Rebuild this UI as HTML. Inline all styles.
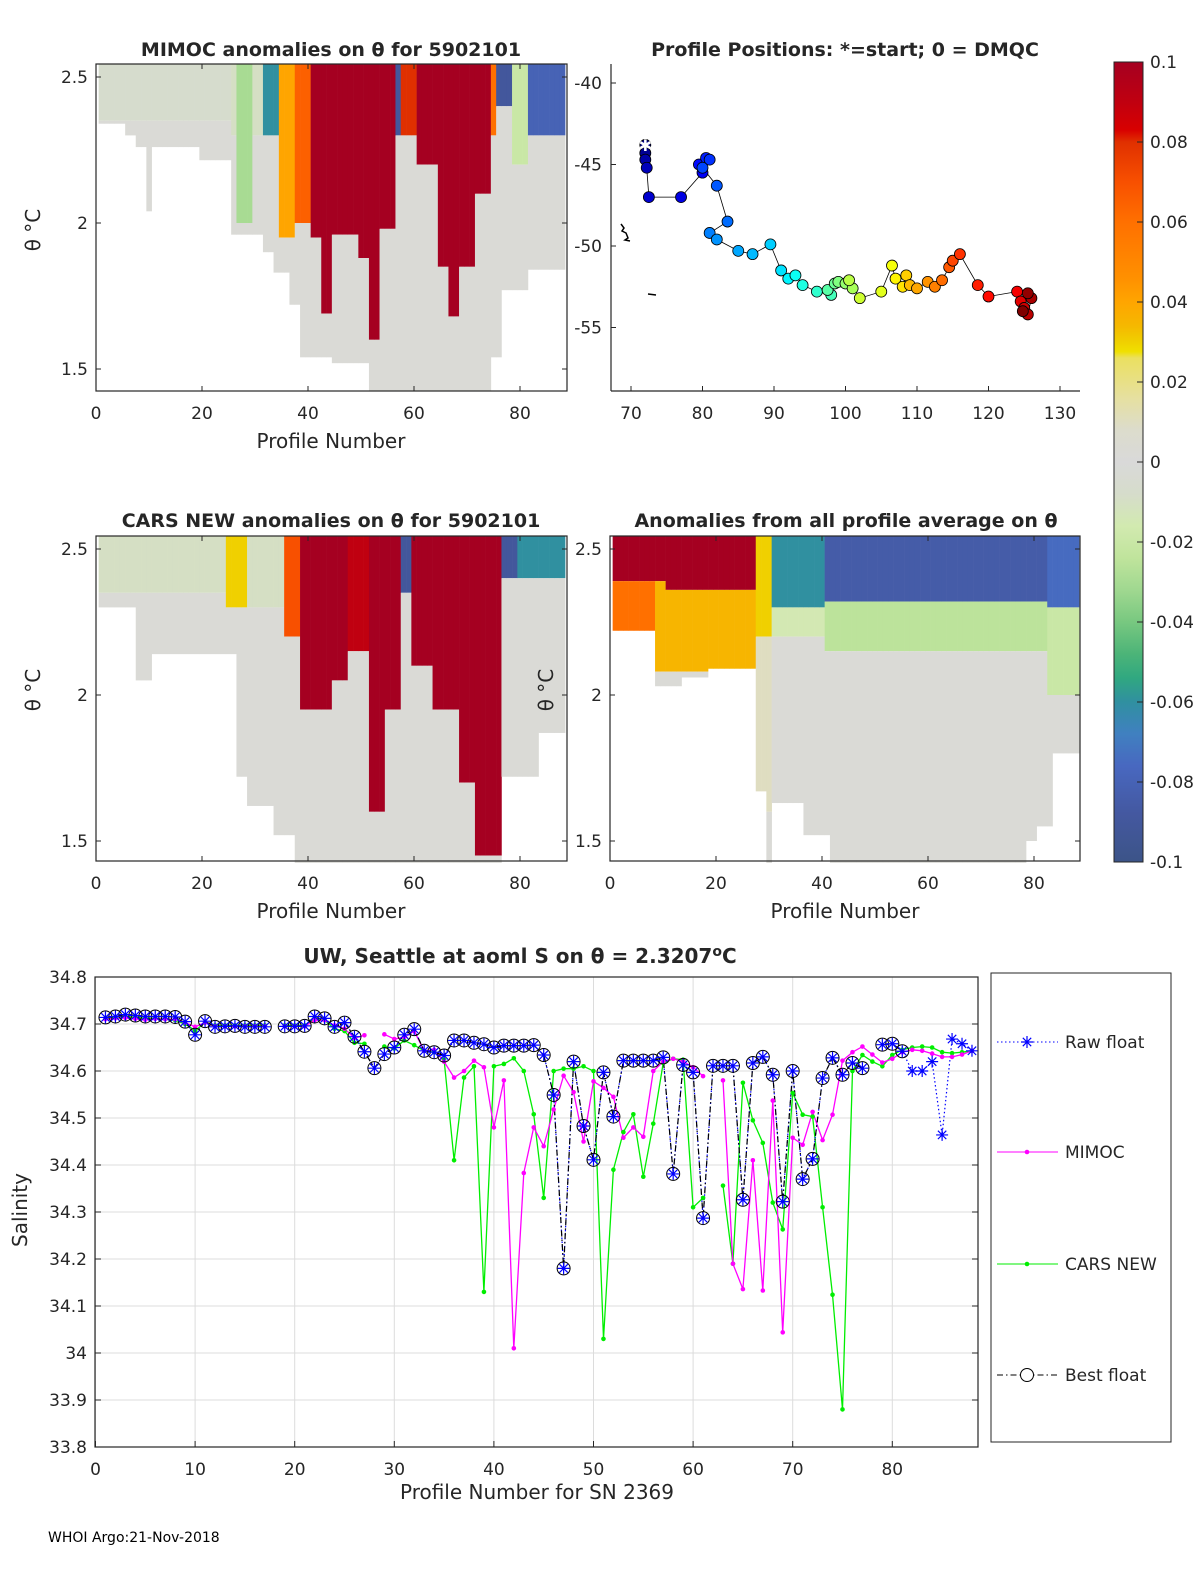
<!DOCTYPE html>
<html><head><meta charset="utf-8"><style>
html,body{margin:0;padding:0;background:#fff;}
svg{display:block;font-family:"DejaVu Sans","Liberation Sans",sans-serif;}
</style></head><body>
<svg id="fig" width="1200" height="1575" viewBox="0 0 1200 1575" xmlns="http://www.w3.org/2000/svg">
<defs>
<linearGradient id="cbgrad" x1="0" y1="0" x2="0" y2="1">
<stop offset="0" stop-color="#a50021"/><stop offset="0.05" stop-color="#c00010"/><stop offset="0.085" stop-color="#d80000"/>
<stop offset="0.1" stop-color="#e03000"/><stop offset="0.15" stop-color="#f85000"/><stop offset="0.2" stop-color="#ff7000"/>
<stop offset="0.27" stop-color="#ff9000"/><stop offset="0.3" stop-color="#ffa500"/><stop offset="0.33" stop-color="#f5b800"/>
<stop offset="0.35" stop-color="#f0d000"/><stop offset="0.362" stop-color="#f0e000"/><stop offset="0.37" stop-color="#ebe060"/>
<stop offset="0.42" stop-color="#e6e0a0"/><stop offset="0.46" stop-color="#dcdccc"/><stop offset="0.5" stop-color="#d9d9d9"/>
<stop offset="0.54" stop-color="#d6dccb"/><stop offset="0.58" stop-color="#d2eab0"/><stop offset="0.62" stop-color="#c0e49c"/>
<stop offset="0.66" stop-color="#a0d890"/><stop offset="0.7" stop-color="#78c880"/><stop offset="0.74" stop-color="#4cb478"/>
<stop offset="0.77" stop-color="#30a880"/><stop offset="0.8" stop-color="#3090a0"/><stop offset="0.84" stop-color="#4080c0"/>
<stop offset="0.88" stop-color="#4868c0"/><stop offset="0.94" stop-color="#4458a0"/><stop offset="1" stop-color="#3c5488"/>
</linearGradient>
</defs>
<g id="layer"></g>
</svg>
<script>
// ---------- bottom chart data (profile 1..88) ----------
const profiles = Array.from({length:88},(_,i)=>i+1);
const bestFloat = [34.714,34.716,34.72,34.718,34.716,34.716,34.716,34.715,34.705,34.677,34.706,34.694,34.695,34.696,34.694,34.694,34.694,null,34.695,34.695,34.696,34.716,34.712,34.694,34.703,34.673,34.641,34.606,34.636,34.65,34.677,34.689,34.643,34.64,34.633,34.665,34.665,34.66,34.657,34.65,34.654,34.654,34.654,34.655,34.634,34.549,34.18,34.62,34.483,34.411,34.597,34.503,34.622,34.622,34.622,34.622,34.629,34.381,34.613,34.597,34.287,34.611,34.611,34.611,34.326,34.617,34.63,34.592,34.322,34.6,34.37,34.413,34.585,34.628,34.592,34.617,34.606,null,34.656,34.658,34.642,null,null,null,null,null,null,null];
const rawFloat = [34.714,34.716,34.72,34.718,34.716,34.716,34.716,34.715,34.705,34.677,34.706,34.694,34.695,34.696,34.694,34.694,34.694,null,34.695,34.695,34.696,34.716,34.712,34.694,34.703,34.673,34.641,34.606,34.636,34.65,34.677,34.689,34.643,34.64,34.633,34.665,34.665,34.66,34.657,34.65,34.654,34.654,34.654,34.655,34.634,34.549,34.18,34.62,34.483,34.411,34.597,34.503,34.622,34.622,34.622,34.622,34.629,34.381,34.613,34.597,34.287,34.611,34.611,34.611,34.326,34.617,34.63,34.592,34.322,34.6,34.37,34.413,34.585,34.628,34.592,34.617,34.606,null,34.656,34.658,34.642,34.6,34.6,34.62,34.464,34.668,34.658,34.643];
const mimocS = [34.71,34.712,34.713,34.711,34.709,34.711,34.71,34.71,34.703,34.694,34.703,34.695,34.695,34.695,34.695,34.695,34.695,null,34.695,34.695,34.695,34.708,34.708,34.697,34.69,34.67,34.676,null,34.678,34.668,34.672,34.685,34.643,34.645,34.62,34.586,34.6,34.622,34.608,34.48,34.58,34.01,34.383,34.48,34.44,34.518,34.59,34.555,34.45,34.578,34.564,34.545,34.458,34.48,34.46,34.6,34.62,34.626,34.62,34.608,34.589,null,34.58,34.19,34.136,34.41,34.133,34.537,34.044,34.458,34.443,34.513,34.453,34.507,34.622,34.64,34.652,34.635,34.618,34.626,34.64,34.645,34.643,34.637,34.63,34.63,34.635,34.643];
const carsS = [34.712,34.714,34.716,34.714,34.712,34.712,34.71,34.708,34.7,34.686,34.703,34.697,34.697,34.697,34.697,34.697,34.697,null,34.697,34.697,34.697,34.712,34.708,34.69,34.685,34.66,34.658,null,34.652,34.648,34.665,34.655,34.643,34.64,34.624,34.41,34.586,34.61,34.13,34.61,34.615,34.627,34.6,34.508,34.33,34.6,34.605,34.605,34.61,34.6,34.03,34.39,34.47,34.508,34.375,34.488,34.617,34.626,34.624,34.31,34.33,null,34.356,34.19,34.575,34.495,34.447,34.32,34.263,34.553,34.507,34.503,34.31,34.124,33.88,34.6,34.634,34.62,34.61,34.634,34.645,34.65,34.652,34.65,34.64,34.638,34.64,34.643];
const salTicks = [34.8,34.7,34.6,34.5,34.4,34.3,34.2,34.1,34,33.9,33.8];
const salTickLabels = ["34.8","34.7","34.6","34.5","34.4","34.3","34.2","34.1","34","33.9","33.8"];
const profTicks = [0,10,20,30,40,50,60,70,80];

// ---------- heatmap data (per profile column 1..88) ----------
const mimocBottom = [2.34,2.34,2.34,2.34,2.34,2.3,2.3,2.26,2.26,2.04,2.26,2.26,2.26,2.26,2.26,2.26,2.26,2.26,2.26,2.215,2.215,2.215,2.215,2.215,2.215,1.96,1.96,1.96,1.96,1.96,1.96,1.9,1.9,1.83,1.83,1.83,1.72,1.72,1.54,1.54,1.54,1.54,1.54,1.54,1.52,1.52,1.52,1.52,1.52,1.52,1.52,1.425,1.425,1.425,1.425,1.425,1.425,1.425,1.425,1.425,1.425,1.425,1.425,1.425,1.425,1.425,1.425,1.425,1.425,1.425,1.425,1.425,1.425,1.425,1.54,1.54,1.77,1.77,1.77,1.77,1.77,1.84,1.84,1.84,1.84,1.84,1.84,1.84];
const mimocTopVal = [-0.007,-0.007,-0.007,-0.007,-0.007,-0.007,-0.007,-0.007,-0.007,-0.007,-0.007,-0.007,-0.007,-0.007,-0.007,-0.007,-0.007,-0.007,-0.007,-0.007,-0.007,-0.007,-0.007,-0.007,-0.007,-0.01,-0.03,-0.03,-0.03,-0.01,-0.01,-0.06,-0.06,-0.06,0.04,0.04,0.04,0.065,0.065,0.065,0.1,0.1,0.1,0.1,0.1,0.1,0.1,0.1,0.1,0.1,0.1,0.1,0.1,0.1,0.1,0.1,-0.09,0.08,0.08,0.08,0.1,0.1,0.1,0.1,0.1,0.1,0.1,0.1,0.1,0.1,0.1,0.1,0.1,0.1,0.06,-0.09,-0.09,-0.09,-0.02,-0.02,-0.02,-0.08,-0.08,-0.08,-0.08,-0.08,-0.08,-0.08];
const mimocTopEnd = [2.35,2.35,2.35,2.35,2.35,2.35,2.35,2.35,2.35,2.35,2.35,2.35,2.35,2.35,2.35,2.35,2.35,2.35,2.35,2.35,2.35,2.35,2.35,2.35,2.35,2.3,2.0,2.0,2.0,2.3,2.3,2.3,2.3,2.3,1.95,1.95,1.95,2.0,2.0,2.0,1.95,1.95,1.69,1.69,1.96,1.96,1.96,1.96,1.96,1.88,1.88,1.6,1.6,1.98,1.98,1.98,2.3,2.3,2.3,2.3,2.2,2.2,2.2,2.2,1.85,1.85,1.68,1.68,1.85,1.85,1.85,2.1,2.1,2.1,2.3,2.4,2.4,2.4,2.2,2.2,2.2,2.3,2.3,2.3,2.3,2.3,2.3,2.3];
const carsBottom = [2.3,2.3,2.3,2.3,2.3,2.3,2.3,2.05,2.05,2.05,2.14,2.14,2.14,2.14,2.14,2.14,2.14,2.14,2.14,2.14,2.14,2.14,2.14,2.14,2.14,2.14,1.72,1.72,1.62,1.62,1.62,1.62,1.62,1.52,1.52,1.52,1.52,1.425,1.425,1.425,1.425,1.425,1.425,1.425,1.425,1.425,1.425,1.425,1.425,1.425,1.425,1.425,1.425,1.425,1.425,1.425,1.425,1.425,1.425,1.425,1.425,1.425,1.425,1.425,1.425,1.425,1.425,1.425,1.425,1.425,1.425,1.425,1.425,1.425,1.425,1.425,1.72,1.72,1.72,1.72,1.72,1.72,1.72,1.87,1.87,1.87,1.87,1.87];
const carsTopVal = [-0.01,-0.01,-0.01,-0.01,-0.01,-0.01,-0.01,-0.01,-0.01,-0.01,-0.01,-0.01,-0.01,-0.01,-0.01,-0.01,-0.01,-0.01,-0.01,-0.01,-0.01,-0.01,-0.01,-0.01,0.03,0.03,0.03,0.03,-0.01,-0.01,-0.01,-0.01,-0.01,-0.01,-0.01,0.07,0.07,0.07,0.1,0.1,0.1,0.1,0.1,0.1,0.1,0.1,0.1,0.09,0.09,0.09,0.09,0.1,0.1,0.1,0.1,0.1,0.1,-0.09,-0.09,0.1,0.1,0.1,0.1,0.1,0.1,0.1,0.1,0.1,0.1,0.1,0.1,0.1,0.1,0.1,0.1,0.1,-0.09,-0.09,-0.09,-0.06,-0.06,-0.06,-0.06,-0.06,-0.06,-0.06,-0.06,-0.06];
const carsTopEnd = [2.35,2.35,2.35,2.35,2.35,2.35,2.35,2.35,2.35,2.35,2.35,2.35,2.35,2.35,2.35,2.35,2.35,2.35,2.35,2.35,2.35,2.35,2.35,2.35,2.3,2.3,2.3,2.3,2.3,2.3,2.3,2.3,2.3,2.3,2.3,2.2,2.2,2.2,1.95,1.95,1.95,1.95,1.95,1.95,2.05,2.05,2.05,2.15,2.15,2.15,2.15,1.6,1.6,1.6,1.95,1.95,1.95,2.35,2.35,2.1,2.1,2.1,2.1,1.95,1.95,1.95,1.95,1.95,1.7,1.7,1.7,1.45,1.45,1.45,1.45,1.45,2.4,2.4,2.4,2.4,2.4,2.4,2.4,2.4,2.4,2.4,2.4,2.4];
const avgBottom = [2.22,2.22,2.22,2.22,2.22,2.22,2.22,2.22,2.03,2.03,2.03,2.03,2.03,2.06,2.06,2.06,2.06,2.06,2.09,2.09,2.09,2.09,2.09,2.09,2.09,2.09,2.09,1.67,1.67,1.425,1.63,1.63,1.63,1.63,1.63,1.63,1.52,1.52,1.52,1.52,1.52,1.425,1.425,1.425,1.425,1.425,1.425,1.425,1.425,1.425,1.425,1.425,1.425,1.425,1.425,1.425,1.425,1.425,1.425,1.425,1.425,1.425,1.425,1.425,1.425,1.425,1.425,1.425,1.425,1.425,1.425,1.425,1.425,1.425,1.425,1.425,1.425,1.425,1.5,1.5,1.55,1.55,1.55,1.8,1.8,1.8,1.8,1.8];
const avgTopVal = [0.1,0.1,0.1,0.1,0.1,0.1,0.1,0.1,0.1,0.1,0.1,0.1,0.1,0.1,0.1,0.1,0.1,0.1,0.1,0.1,0.1,0.1,0.1,0.1,0.1,0.1,0.1,0.03,0.03,0.03,-0.06,-0.06,-0.06,-0.06,-0.06,-0.06,-0.06,-0.06,-0.06,-0.06,-0.085,-0.085,-0.085,-0.085,-0.085,-0.085,-0.085,-0.085,-0.085,-0.085,-0.085,-0.085,-0.085,-0.085,-0.085,-0.085,-0.085,-0.085,-0.085,-0.085,-0.085,-0.085,-0.085,-0.085,-0.085,-0.085,-0.085,-0.085,-0.085,-0.085,-0.085,-0.085,-0.085,-0.085,-0.085,-0.085,-0.085,-0.085,-0.085,-0.085,-0.085,-0.085,-0.075,-0.075,-0.075,-0.075,-0.075,-0.075];
const avgTopEnd = [2.39,2.39,2.39,2.39,2.39,2.39,2.39,2.39,2.39,2.39,2.36,2.36,2.36,2.36,2.36,2.36,2.36,2.36,2.36,2.36,2.36,2.36,2.36,2.36,2.36,2.36,2.36,2.2,2.2,2.2,2.3,2.3,2.3,2.3,2.3,2.3,2.3,2.3,2.3,2.3,2.32,2.32,2.32,2.32,2.32,2.32,2.32,2.32,2.32,2.32,2.32,2.32,2.32,2.32,2.32,2.32,2.32,2.32,2.32,2.32,2.32,2.32,2.32,2.32,2.32,2.32,2.32,2.32,2.32,2.32,2.32,2.32,2.32,2.32,2.32,2.32,2.32,2.32,2.32,2.32,2.32,2.32,2.3,2.3,2.3,2.3,2.3,2.3];
const avgMidVal = [0.06,0.06,0.06,0.06,0.06,0.06,0.06,0.06,0.035,0.035,0.035,0.035,0.035,0.035,0.035,0.035,0.035,0.035,0.035,0.035,0.035,0.035,0.035,0.035,0.035,0.035,0.035,0.01,0.01,0.01,-0.015,-0.015,-0.015,-0.015,-0.015,-0.015,-0.015,-0.015,-0.015,-0.015,-0.025,-0.025,-0.025,-0.025,-0.025,-0.025,-0.025,-0.025,-0.025,-0.025,-0.025,-0.025,-0.025,-0.025,-0.025,-0.025,-0.025,-0.025,-0.025,-0.025,-0.025,-0.025,-0.025,-0.025,-0.025,-0.025,-0.025,-0.025,-0.025,-0.025,-0.025,-0.025,-0.025,-0.025,-0.025,-0.025,-0.025,-0.025,-0.025,-0.025,-0.025,-0.025,-0.02,-0.02,-0.02,-0.02,-0.02,-0.02];
const avgMidEnd = [2.22,2.22,2.22,2.22,2.22,2.22,2.22,2.22,2.08,2.08,2.08,2.08,2.08,2.08,2.08,2.08,2.08,2.08,2.08,2.08,2.08,2.08,2.08,2.08,2.08,2.08,2.08,1.6,1.6,1.6,2.2,2.2,2.2,2.2,2.2,2.2,2.2,2.2,2.2,2.2,2.15,2.15,2.15,2.15,2.15,2.15,2.15,2.15,2.15,2.15,2.15,2.15,2.15,2.15,2.15,2.15,2.15,2.15,2.15,2.15,2.15,2.15,2.15,2.15,2.15,2.15,2.15,2.15,2.15,2.15,2.15,2.15,2.15,2.15,2.15,2.15,2.15,2.15,2.15,2.15,2.15,2.15,2.0,2.0,2.0,2.0,2.0,2.0];
const thetaTicks = [2.5,2,1.5];
const thetaTickLabels = ["2.5","2","1.5"];
const heatXTicks = [0,20,40,60,80];

// ---------- profile positions ----------
const posLon = [72,72,72,72.2,72.5,77,80,79.5,80.5,81,80,82,83.5,81,82,85,87,89.5,91,92,93,94,96,98,97.5,98.5,99,100,101,100.5,102,105,106.5,107,108,108.5,109,110,111.5,112.5,113.5,114.5,115,116,118.5,120,124,124.5,125,125.5,126,125.5,124.8];
const posLat = [-43.8,-44.3,-44.7,-45.2,-47,-47,-45.5,-45,-44.6,-44.7,-45.2,-46.3,-48.5,-49.2,-49.6,-50.3,-50.5,-49.9,-51.5,-52,-51.8,-52.4,-52.8,-53,-52.7,-52.3,-52.2,-52.3,-52.6,-52.1,-53.2,-52.8,-51.2,-52,-52.5,-51.8,-52.4,-52.6,-52.2,-52.5,-52.1,-51.3,-50.9,-50.5,-52.4,-53.1,-52.8,-53.4,-53.8,-54.2,-53.2,-52.9,-54];
const lonTicks = [70,80,90,100,110,120,130];
const latTicks = [-40,-45,-50,-55];
const cbTicks = [0.1,0.08,0.06,0.04,0.02,0,-0.02,-0.04,-0.06,-0.08,-0.1];
const cbTickLabels = ["0.1","0.08","0.06","0.04","0.02","0","-0.02","-0.04","-0.06","-0.08","-0.1"];

// ---------- helpers ----------
const NS="http://www.w3.org/2000/svg";
const layer=document.getElementById('layer');
function mk(tag,attrs,parent){const e=document.createElementNS(NS,tag);for(const k in attrs)e.setAttribute(k,attrs[k]);(parent||layer).appendChild(e);return e;}
function txt(s,x,y,size,anchor,parent,weight){const t=mk('text',{x:x,y:y,'font-size':size,'text-anchor':anchor||'middle',fill:'#262626'},parent);if(weight)t.setAttribute('font-weight',weight);t.textContent=s;return t;}
const cmapStops=[[0,[165,0,33]],[0.05,[192,0,16]],[0.085,[216,0,0]],[0.1,[224,48,0]],[0.15,[248,80,0]],[0.2,[255,112,0]],[0.27,[255,144,0]],[0.3,[255,165,0]],[0.33,[245,184,0]],[0.35,[240,208,0]],[0.362,[240,224,0]],[0.37,[235,224,96]],[0.42,[230,224,160]],[0.46,[220,220,204]],[0.5,[217,217,217]],[0.54,[214,220,203]],[0.58,[210,234,176]],[0.62,[192,228,156]],[0.66,[160,216,144]],[0.7,[120,200,128]],[0.74,[76,180,120]],[0.77,[48,168,128]],[0.8,[48,144,160]],[0.84,[64,128,192]],[0.88,[72,104,192]],[0.94,[68,88,160]],[1,[60,84,136]]];
function cmap(v){let t=(0.1-v)/0.2;t=Math.max(0,Math.min(1,t));for(let i=1;i<cmapStops.length;i++){if(t<=cmapStops[i][0]){const a=cmapStops[i-1],b=cmapStops[i];const f=(t-a[0])/(b[0]-a[0]||1);const c=a[1].map((q,j)=>Math.round(q+(b[1][j]-q)*f));return 'rgb('+c.join(',')+')';}}return 'rgb(60,84,136)';}

// ---------- heatmap panel ----------
function heatPanel(name,x0,y0,w,h,bottom,v1,e1,v2,e2){
  const g=mk('g',{});
  
  
  const xs=p=>x0+5.3*p;
  const ys=t=>y0+13+(2.5-t)*292;
  const top=2.5+13/292;
  const cells=mk('g',{},g);
  
  
  for(let i=0;i<bottom.length;i++){
    const p=i+1;const xa=xs(p-0.5),xb=xs(p+0.5)+0.3;
    const bands=[];
    bands.push([top,e1[i],v1[i]]);
    let cur=e1[i];
    if(v2&&e2[i]<cur){bands.push([cur,Math.max(e2[i],bottom[i]),v2[i]]);cur=e2[i];}
    if(bottom[i]<cur)bands.push([cur,bottom[i],0.002]);
    bands.forEach(b=>{const t1=b[0],t2=Math.max(b[1],bottom[i]);if(t2>=t1)return;
      const r=mk('rect',{x:xa,y:ys(t1),width:xb-xa,height:ys(t2)-ys(t1),fill:cmap(b[2])},cells);
      
      });
  }
  const fr=mk('rect',{x:x0,y:y0,width:w,height:h,fill:'none',stroke:'#262626','stroke-width':1.2},g);
  
  
  return {g,xs,ys};
}
function heatAxes(P,x0,y0,w,h,showY,ylx){
  heatXTicks.forEach(v=>{const x=P.xs(v);mk('line',{x1:x,y1:y0+h,x2:x,y2:y0+h-5,stroke:'#262626'},P.g);mk('line',{x1:x,y1:y0,x2:x,y2:y0+5,stroke:'#262626'},P.g);
    const t=txt(String(v),x,y0+h+28,17,'middle',P.g);});
  thetaTicks.forEach((v,i)=>{const y=P.ys(v);mk('line',{x1:x0,y1:y,x2:x0+5,y2:y,stroke:'#262626'},P.g);mk('line',{x1:x0+w,y1:y,x2:x0+w-5,y2:y,stroke:'#262626'},P.g);
    if(showY){const t=txt(thetaTickLabels[i],ylx,y+6,17,'end',P.g);}});
}

const P1=heatPanel('mimoc-anomaly-panel',96,64,471,327,mimocBottom,mimocTopVal,mimocTopEnd,null,null);
heatAxes(P1,96,64,471,327,true,88);
const P3=heatPanel('cars-anomaly-panel',96,536,471,325,carsBottom,carsTopVal,carsTopEnd,null,null);
heatAxes(P3,96,536,471,325,true,88);
const P4=heatPanel('average-anomaly-panel',610,536,470,325,avgBottom,avgTopVal,avgTopEnd,avgMidVal,avgMidEnd);
heatAxes(P4,610,536,470,325,true,602);

// ---------- positions panel ----------
function jetc(t){const r=Math.max(0,Math.min(1,1.5-Math.abs(4*t-3))),gg=Math.max(0,Math.min(1,1.5-Math.abs(4*t-2))),b=Math.max(0,Math.min(1,1.5-Math.abs(4*t-1)));return 'rgb('+[r,gg,b].map(q=>Math.round(q*255)).join(',')+')';}
(function(){
  const g=mk('g',{});
  
  
  const X=v=>631+(v-70)*7.15, Y=v=>83+(-40-v)*16.3;
  mk('line',{x1:611,y1:64,x2:611,y2:391,stroke:'#262626','stroke-width':1.2},g);
  mk('line',{x1:611,y1:391,x2:1080,y2:391,stroke:'#262626','stroke-width':1.2},g);
  lonTicks.forEach(v=>{mk('line',{x1:X(v),y1:391,x2:X(v),y2:386,stroke:'#262626'},g);const t=txt(String(v),X(v),419,17,'middle',g);});
  latTicks.forEach(v=>{mk('line',{x1:611,y1:Y(v),x2:616,y2:Y(v),stroke:'#262626'},g);const t=txt(String(v),602,Y(v)+6,17,'end',g);});
  const c=mk('path',{d:'M621,224 l3,4 l-2,3 l4,2 l2,5 l-3,2 l5,1 M648,294 l8,1',stroke:'#000','stroke-width':1.5,fill:'none'},g);
  
  
  let d='';posLon.forEach((lo,i)=>{d+=(i?'L':'M')+X(lo).toFixed(1)+','+Y(posLat[i]).toFixed(1);});
  const tr=mk('path',{d:d,stroke:'#000','stroke-width':0.8,fill:'none'},g);
  
  
  const n=posLon.length;
  posLon.forEach((lo,i)=>{const t=i/(n-1);
    const ci=mk('circle',{cx:X(lo),cy:Y(posLat[i]),r:5.5,fill:jetc(t),stroke:'#000','stroke-width':0.8},g);
    
    });
  const st=txt('✱',X(posLon[0]),Y(posLat[0])+6,16,'middle',g);st.setAttribute('fill','#fff');
  
  
})();

// ---------- colorbar ----------
(function(){
  const g=mk('g',{});
  
  
  mk('rect',{x:1114,y:62,width:29,height:800,fill:'url(#cbgrad)',stroke:'#262626','stroke-width':1},g);
  cbTicks.forEach((v,i)=>{const y=62+(0.1-v)/0.2*800;mk('line',{x1:1137,y1:y,x2:1143,y2:y,stroke:'#262626'},g);
    const t=txt(cbTickLabels[i],1150,y+6,17,'start',g);});
})();

// ---------- bottom salinity chart ----------
(function(){
  const g=mk('g',{});
  
  
  const x0=95,x1=978,yT=977,yB=1447;
  const X=p=>95.5+9.96*p, Y=v=>1024+(34.7-v)*470;
  mk('rect',{x:x0,y:yT,width:x1-x0,height:yB-yT,fill:'#fff'},g);
  profTicks.forEach(v=>{mk('line',{x1:X(v),y1:yT,x2:X(v),y2:yB,stroke:'#dcdcdc'},g);mk('line',{x1:X(v),y1:yB,x2:X(v),y2:yB-6,stroke:'#262626'},g);
    const t=txt(String(v),X(v),yB+28,17,'middle',g);});
  salTicks.forEach((v,i)=>{mk('line',{x1:x0,y1:Y(v),x2:x1,y2:Y(v),stroke:'#dcdcdc'},g);mk('line',{x1:x0,y1:Y(v),x2:x0+6,y2:Y(v),stroke:'#262626'},g);mk('line',{x1:x1,y1:Y(v),x2:x1-6,y2:Y(v),stroke:'#262626'},g);
    const t=txt(salTickLabels[i],87,Y(v)+6,17,'end',g);});
  function pathOf(arr){let d='',pen=false;arr.forEach((v,i)=>{if(v==null){pen=false;return;}d+=(pen?'L':'M')+X(profiles[i]).toFixed(1)+','+Y(v).toFixed(1);pen=true;});return d;}
  const cl=mk('path',{d:pathOf(carsS),stroke:'#00ee00','stroke-width':1.3,fill:'none'},g);
  
  
  const ml=mk('path',{d:pathOf(mimocS),stroke:'#ff00ff','stroke-width':1.3,fill:'none'},g);
  
  
  const rl=mk('path',{d:pathOf(rawFloat),stroke:'#0000ff','stroke-width':1.2,fill:'none','stroke-dasharray':'1.5,2.5'},g);
  
  
  const bl=mk('path',{d:pathOf(bestFloat),stroke:'#000','stroke-width':1.2,fill:'none','stroke-dasharray':'6,3,1.5,3'},g);
  
  
  carsS.forEach((v,i)=>{if(v==null)return;const c=mk('circle',{cx:X(profiles[i]),cy:Y(v),r:2.3,fill:'#00ee00'},g);});
  mimocS.forEach((v,i)=>{if(v==null)return;const c=mk('circle',{cx:X(profiles[i]),cy:Y(v),r:2.3,fill:'#ff00ff'},g);});
  bestFloat.forEach((v,i)=>{if(v==null)return;const c=mk('circle',{cx:X(profiles[i]),cy:Y(v),r:6.5,fill:'none',stroke:'#000','stroke-width':1},g);});
  function star(cx,cy,s,parent){const d='M'+(cx-s)+','+cy+'h'+(2*s)+'M'+cx+','+(cy-s)+'v'+(2*s)+'M'+(cx-s*0.7)+','+(cy-s*0.7)+'l'+(1.4*s)+','+(1.4*s)+'M'+(cx-s*0.7)+','+(cy+s*0.7)+'l'+(1.4*s)+','+(-1.4*s);return mk('path',{d:d,stroke:'#0000ff','stroke-width':1.2,fill:'none'},parent);}
  rawFloat.forEach((v,i)=>{if(v==null)return;const s=star(X(profiles[i]),Y(v),6,g);});
  mk('rect',{x:x0,y:yT,width:x1-x0,height:yB-yT,fill:'none',stroke:'#262626','stroke-width':1.2},g);
  const lg=mk('g',{});
  
  
  mk('rect',{x:991,y:973,width:180,height:469,fill:'#fff',stroke:'#262626','stroke-width':1},lg);
  const ent=[['Raw float',1042],['MIMOC',1152],['CARS NEW',1264],['Best float',1375]];
  ent.forEach((e,k)=>{const ge=mk('g',{},lg);
    const y=e[1];
    if(k==0){mk('line',{x1:997,y1:y,x2:1058,y2:y,stroke:'#0000ff','stroke-dasharray':'1.5,2.5'},ge);star(1027,y,6,ge);}
    if(k==1){mk('line',{x1:997,y1:y,x2:1058,y2:y,stroke:'#ff00ff'},ge);mk('circle',{cx:1027,cy:y,r:2.3,fill:'#ff00ff'},ge);}
    if(k==2){mk('line',{x1:997,y1:y,x2:1058,y2:y,stroke:'#00ee00'},ge);mk('circle',{cx:1027,cy:y,r:2.3,fill:'#00ee00'},ge);}
    if(k==3){mk('line',{x1:997,y1:y,x2:1058,y2:y,stroke:'#000','stroke-dasharray':'6,3,1.5,3'},ge);mk('circle',{cx:1027,cy:y,r:6.5,fill:'#fff',stroke:'#000'},ge);}
    txt(e[0],1065,y+6,17,'start',ge);});
})();

// ---------- titles & labels ----------
function label(s,x,y,size,name,opts){const t=txt(s,x,y,size,'middle',layer,opts&&opts.bold?'bold':null);if(opts&&opts.rot)t.setAttribute('transform','rotate(-90 '+x+' '+y+')');return t;}
label('MIMOC anomalies on θ  for 5902101',331,56,19,'mimoc-title',{bold:1});
label('Profile Positions: *=start; 0 = DMQC',845,56,19,'positions-title',{bold:1});
label('CARS NEW anomalies on θ for 5902101',331,527,19,'cars-title',{bold:1});
label('Anomalies from all profile average on θ',846,527,19,'average-title',{bold:1});
label('Profile Number',331,448,20,'x-axis-title-mimoc');
label('Profile Number',331,918,20,'x-axis-title-cars');
label('Profile Number',845,918,20,'x-axis-title-average');
label('θ °C',40,230,20,'y-axis-title-mimoc',{rot:1});
label('θ °C',40,690,20,'y-axis-title-cars',{rot:1});
label('θ °C',553,690,20,'y-axis-title-average',{rot:1});
const bt=label('UW, Seattle at aoml S on θ = 2.3207',520,963,20,'salinity-title',{bold:1});
const sup=mk('tspan',{dy:-7,'font-size':14},bt);sup.textContent='o';
const cc=mk('tspan',{dy:7},bt);cc.textContent='C';
label('Profile Number for SN 2369',537,1499,20,'x-axis-title-salinity');
label('Salinity',27,1210,20,'y-axis-title-salinity',{rot:1});
const ft=txt('WHOI Argo:21-Nov-2018',48,1542,14,'start');ft.setAttribute('fill','#000');


</script>
</body></html>
